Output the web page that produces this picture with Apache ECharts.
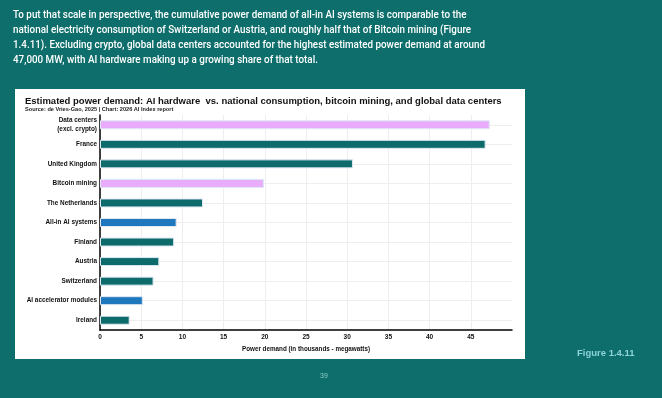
<!DOCTYPE html>
<html>
<head>
<meta charset="utf-8">
<script src="https://cdn.jsdelivr.net/npm/echarts@6/dist/echarts.min.js"></script>
<style>
  html, body { margin: 0; padding: 0; background: #0d6e6b; }
  #page { width: 662px; height: 398px; }
</style>
</head>
<body>
<div id="page"></div>
<script>
"use strict";
// categories top to bottom
var categories = ['Data centers\n(excl. crypto)', 'France', 'United Kingdom', 'Bitcoin mining',
    'The Netherlands', 'All-in AI systems', 'Finland', 'Austria', 'Switzerland',
    'AI accelerator modules', 'Ireland'];
// power demand, thousands of MW
var demand = [47.3, 46.8, 30.7, 19.9, 12.5, 9.3, 9.0, 7.2, 6.5, 5.2, 3.6];
// kind of each bar: drives the colour
var kinds = ['datacenter', 'country', 'country', 'datacenter', 'country', 'ai',
    'country', 'country', 'country', 'ai', 'country'];
var kindColors = { country: '#0e6b6b', datacenter: '#e8acfa', ai: '#1f78bd' };

var paragraph = [
    'To put that scale in perspective, the cumulative power demand of all-in AI systems is comparable to the',
    'national electricity consumption of Switzerland or Austria, and roughly half that of Bitcoin mining (Figure',
    '1.4.11). Excluding crypto, global data centers accounted for the highest estimated power demand at around',
    '47,000 MW, with AI hardware making up a growing share of that total.'
];

var FONT = '"Liberation Sans", Arial, sans-serif';

//squeeze the paragraph to the condensed look of the original
var ctx = document.createElement('canvas').getContext('2d');
ctx.font = '500 11.5px Roboto';
var squeeze = 472 / ctx.measureText(paragraph[2]).width;

var textEls = paragraph.map(function (line, i) {
    return {
        type: 'text', x: 13, y: 15 + i * 15, scaleX: squeeze, z: 100,
        style: { text: line, fill: '#ffffff', font: '500 11.5px Roboto', verticalAlign: 'middle' }
    };
});

var myChart = echarts.init(document.getElementById('page'));
var option = {
    backgroundColor: '#0d6e6b',
    animation: false,
    graphic: textEls.concat([
        { type: 'rect', shape: { x: 15, y: 89, width: 510, height: 270 }, style: { fill: '#ffffff' }, z: -10 },
        {
            type: 'text', x: 25, y: 101, z: 100,
            style: { text: 'Estimated power demand: AI hardware  vs. national consumption, bitcoin mining, and global data centers',
                fill: '#111111', font: 'bold 9.5px ' + FONT, verticalAlign: 'middle' }
        },
        {
            type: 'text', x: 25, y: 109.5, z: 100,
            style: { text: 'Source: de Vries-Gao, 2025 | Chart: 2026 AI Index report',
                fill: '#222222', font: 'bold 5.6px ' + FONT, verticalAlign: 'middle' }
        },
        {
            type: 'text', x: 577, y: 353.5, z: 100,
            style: { text: 'Figure 1.4.11', fill: '#8dd2dc', font: 'bold 9.5px ' + FONT, verticalAlign: 'middle' }
        },
        {
            type: 'text', x: 324, y: 376.5, z: 100,
            style: { text: '39', fill: '#8ccdc8', font: '7px ' + FONT, align: 'center', verticalAlign: 'middle' }
        }
    ]),
    grid: { left: 100, right: 150, top: 115, bottom: 68, containLabel: false },
    xAxis: {
        type: 'value',
        min: 0, max: 50, interval: 5,
        name: 'Power demand (in thousands - megawatts)',
        nameLocation: 'middle',
        nameGap: 15,
        nameTextStyle: { fontSize: 6.3, fontWeight: 'bold', color: '#111', fontFamily: FONT },
        axisLine: { show: true, lineStyle: { color: '#000', width: 1.5 } },
        axisTick: { show: false },
        axisLabel: {
            fontSize: 6.5, fontWeight: 'bold', color: '#111', fontFamily: FONT, margin: 4,
            showMaxLabel: false
        },
        splitLine: { show: true, showMaxLine: false, lineStyle: { color: '#eeeeee', width: 1 } }
    },
    yAxis: {
        type: 'category',
        inverse: true,
        data: categories,
        axisLine: { show: true, lineStyle: { color: '#000', width: 1.5 } },
        axisTick: { show: false },
        axisLabel: {
            fontSize: 6.4, fontWeight: 'bold', color: '#111', fontFamily: FONT, margin: 3, lineHeight: 9.5
        },
        splitLine: { show: true, alignWithLabel: true, lineStyle: { color: '#eeeeee', width: 1 } }
    },
    series: [{
        type: 'bar',
        barWidth: 9,
        data: demand.map(function (v, i) {
            return { value: v, itemStyle: { color: kindColors[kinds[i]] } };
        }),
        itemStyle: { borderColor: '#dfe8f3', borderWidth: 1 }
    }]
};
myChart.setOption(option);

window.onresize = function () {
    myChart.resize();
};
</script>
</body>
</html>
